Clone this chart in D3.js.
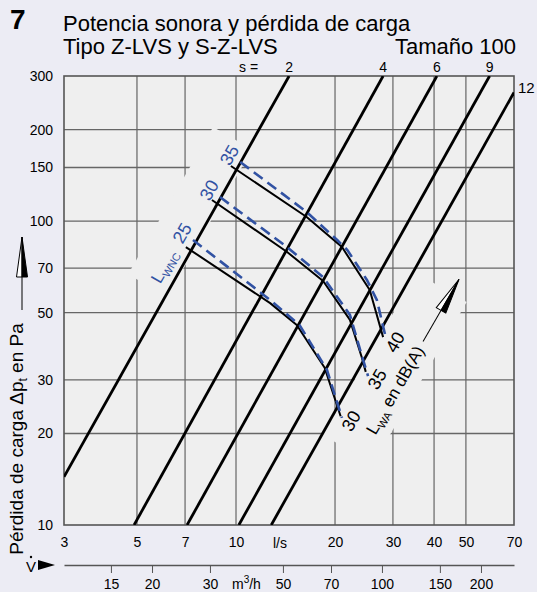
<!DOCTYPE html>
<html><head><meta charset="utf-8">
<script src="https://cdn.jsdelivr.net/npm/d3@7"></script>
<style>
html,body{margin:0;padding:0;background:#ececf4;}
svg{display:block;font-family:"Liberation Sans",Arial,Helvetica,sans-serif;}
</style></head><body>
<svg id="chart" width="537" height="592"></svg>
<script>
// Flow rate (l/s) and pressure drop (Pa) axes
const flowTicks = [3,5,7,10,20,30,40,50,70];
const flowGrid = [5,7,10,20,30,40,50];
const pressureTicks = [10,20,30,50,70,100,150,200,300];
const pressureGrid = [20,30,50,70,100,150,200];
const m3hTicks = [15,20,30,50,70,100,150,200];

// Damper positions s: each line runs from [l/s, Pa] to [l/s, Pa]
const sNames = ["2","4","6","9","12"];
const sFrom = [[3,14.4],[4.9,10],[7.1,10],[10.2,10],[12.8,10]];
const sTo = [[14.5,300],[28,300],[40.8,300],[59,300],[70,265]];

// Sound power curves: L_WA in dB(A) (solid) and L_WNC (dashed), points [l/s, Pa]
const lwaNames = ["30","35","40"];
const lwncNames = ["25","30","35"];
const lwaCurves = [
  [[7.04,82.1],[12.7,53.7],[15.3,45.5],[18.6,32.9],[20.8,22.8]],
  [[8.45,117.3],[14.3,79.1],[18.4,63.5],[22.2,47.3],[24.1,35.7],[24.8,31.9]],
  [[9.65,151.7],[16.4,103.1],[21.0,82.1],[25.5,59.3],[28.0,41.5]]
];
const lwncCurves = [
  [[7.40,86.6],[12.7,55.0],[15.6,45.5],[18.9,32.4],[21.0,22.5]],
  [[8.94,119.9],[14.3,82.1],[18.4,65.4],[22.2,49.1],[24.1,36.2],[25.2,30.9]],
  [[10.3,156.4],[16.4,107.1],[20.3,86.6],[21.8,80.3],[25.0,64.0],[26.8,55.0],[28.6,40.9]]
];

const svg = d3.select("#chart");
const L = 64, R = 514, T = 76, B = 525;
const PLOT_BG = "#efefef";
const BLUE = "#3152a3";
const x = d3.scaleLog().domain([3,70]).range([L,R]);
const y = d3.scaleLog().domain([10,300]).range([B,T]);
const xm = d3.scaleLog().domain([3*3.6,70*3.6]).range([L,R]);
const px = d => [x(d[0]), y(d[1])];

// Heading
svg.append("text").attr("x",10).attr("y",29).attr("font-size",28).attr("font-weight","bold").text("7");
svg.append("text").attr("x",63).attr("y",31).attr("font-size",22).text("Potencia sonora y pérdida de carga");
svg.append("text").attr("x",63).attr("y",54).attr("font-size",22).text("Tipo Z-LVS y S-Z-LVS");
svg.append("text").attr("x",516).attr("y",54).attr("text-anchor","end").attr("font-size",22).text("Tamaño 100");

// Plot area and grid
svg.append("defs").append("clipPath").attr("id","plotclip")
  .append("rect").attr("x",L).attr("y",T).attr("width",R-L).attr("height",B-T);
svg.append("rect").attr("x",L).attr("y",T).attr("width",R-L).attr("height",B-T).attr("fill",PLOT_BG);
const grid = svg.append("g").attr("stroke","#4a4a4a").attr("stroke-width",1);
grid.selectAll("line.v").data(flowGrid).join("line").attr("class","v")
  .attr("x1",d=>x(d)).attr("x2",d=>x(d)).attr("y1",T).attr("y2",B);
grid.selectAll("line.h").data(pressureGrid).join("line").attr("class","h")
  .attr("x1",L).attr("x2",R).attr("y1",d=>y(d)).attr("y2",d=>y(d)).attr("stroke","#666").attr("stroke-width",1.3);

// Label anchors, taken from the curve ends
const lwncStart = lwncCurves.map(c => px(c[0]));
const lwncEnd = lwncCurves.map(c => px(c[c.length-1]));
const lwncTitlePos = [lwncStart[0][0]-29, lwncStart[0][1]+26];
const lwaTitlePos = [lwncEnd[1][0]+27, lwncEnd[1][1]+14];
const ANG = -60;

// Blank bands behind the slanted annotations
const band1 = svg.append("g").attr("transform",`translate(${lwncTitlePos}) rotate(${ANG})`);
band1.append("rect").attr("x",-25).attr("y",-27).attr("width",170).attr("height",45).attr("fill",PLOT_BG);
const band2 = svg.append("g").attr("transform",`translate(${lwaTitlePos}) rotate(${ANG})`);
band2.append("rect").attr("x",-75).attr("y",-40).attr("width",187).attr("height",58).attr("fill",PLOT_BG);

// Frame
svg.append("rect").attr("x",L).attr("y",T).attr("width",R-L).attr("height",B-T)
  .attr("fill","none").attr("stroke","#555").attr("stroke-width",1.6);

// Damper position lines
svg.append("g").attr("clip-path","url(#plotclip)").selectAll("line").data(sNames).join("line")
  .attr("x1",(d,i)=>x(sFrom[i][0])).attr("y1",(d,i)=>y(sFrom[i][1]))
  .attr("x2",(d,i)=>x(sTo[i][0])).attr("y2",(d,i)=>y(sTo[i][1]))
  .attr("stroke","#000").attr("stroke-width",2.8);
const sLab = svg.append("g").attr("font-size",14);
sNames.forEach((n,i)=>{
  if (sTo[i][1] >= 300) {
    sLab.append("text").attr("x",x(sTo[i][0])).attr("y",72).attr("text-anchor","middle").text(n);
  } else {
    sLab.append("text").attr("x",R+4).attr("y",y(sTo[i][1])+1).attr("font-size",15).text(n);
  }
});
sLab.append("text").attr("x",x(sTo[0][0])-50).attr("y",72).text("s =");

// Curves
const line = d3.line().x(d=>x(d[0])).y(d=>y(d[1]));
svg.append("g").selectAll("path").data(lwaCurves).join("path").attr("d",line)
  .attr("fill","none").attr("stroke","#000").attr("stroke-width",2).attr("stroke-linejoin","round");
svg.append("g").selectAll("path").data(lwncCurves).join("path").attr("d",line)
  .attr("fill","none").attr("stroke",BLUE).attr("stroke-width",2.6).attr("stroke-dasharray","11,6");

// Curve labels
const lab = svg.append("g").attr("font-size",18);
lwncNames.forEach((n,i)=>{
  lab.append("text").attr("transform",`translate(${lwncStart[i][0]-11},${lwncStart[i][1]-7}) rotate(${ANG})`)
    .attr("text-anchor","middle").attr("dy","0.35em").attr("fill",BLUE).text(n);
});
lwaNames.forEach((n,i)=>{
  lab.append("text").attr("transform",`translate(${lwncEnd[i][0]+9},${lwncEnd[i][1]+3}) rotate(${ANG})`)
    .attr("text-anchor","middle").attr("dy","0.35em").attr("fill","#000").text(n);
});
const t1 = svg.append("text").attr("transform",`translate(${lwncTitlePos}) rotate(${ANG})`)
  .attr("text-anchor","middle").attr("dy","0.35em").attr("fill",BLUE).attr("font-size",17);
t1.append("tspan").text("L");
t1.append("tspan").attr("font-size",11).attr("dy",4).text("WNC");
const t2 = svg.append("text").attr("transform",`translate(${lwaTitlePos}) rotate(${ANG})`)
  .attr("text-anchor","middle").attr("dy","0.35em").attr("font-size",17);
t2.append("tspan").text("L");
t2.append("tspan").attr("font-size",11).attr("dy",4).text("WA");
t2.append("tspan").attr("dy",-4).text(" en dB(A)");

// Arrow along the L_WA direction
const arr = svg.append("g").attr("transform",`translate(${lwaTitlePos}) rotate(${ANG})`);
arr.append("line").attr("x1",56).attr("y1",0).attr("x2",93).attr("y2",0).attr("stroke","#000").attr("stroke-width",1);
arr.append("path").attr("d","M92,0 L92,-5.5 L128,0 Z").attr("fill","#fff").attr("stroke","#000").attr("stroke-width",1);
arr.append("path").attr("d","M92,0 L92,5.5 L128,0 Z").attr("fill","#000").attr("stroke","#000").attr("stroke-width",1);

// Axes
const ya = svg.append("g").attr("transform",`translate(${L},0)`)
  .call(d3.axisLeft(y).tickValues(pressureTicks).tickFormat(d3.format("d")).tickSize(0).tickPadding(11));
ya.select(".domain").remove();
ya.selectAll("text").attr("font-size",14).attr("font-family",null);
const xa = svg.append("g").attr("transform",`translate(0,${B})`)
  .call(d3.axisBottom(x).tickValues(flowTicks).tickFormat(d3.format("d")).tickSize(0).tickPadding(12));
xa.select(".domain").remove();
xa.selectAll("text").attr("font-size",14).attr("font-family",null);
svg.append("text").attr("x",280).attr("y",548).attr("text-anchor","middle").attr("font-size",14).text("l/s");

const ma = svg.append("g").attr("transform","translate(0,565)")
  .call(d3.axisBottom(xm).tickValues(m3hTicks).tickFormat(d3.format("d")).tickSize(8).tickSizeOuter(0).tickPadding(6));
ma.select(".domain").attr("stroke","#555").attr("stroke-width",1.3);
ma.selectAll(".tick line").attr("stroke","#555");
ma.selectAll("text").attr("font-size",14).attr("font-family",null);
const mu = svg.append("text").attr("x",(xm(30)+xm(50))/2).attr("y",589).attr("text-anchor","middle").attr("font-size",14);
mu.append("tspan").text("m");
mu.append("tspan").attr("font-size",10).attr("dy",-6).text("3");
mu.append("tspan").attr("dy",6).text("/h");

// Flow symbol and arrow
svg.append("text").attr("x",31).attr("y",572).attr("text-anchor","middle").attr("font-size",15).text("V");
svg.append("circle").attr("cx",31).attr("cy",557).attr("r",1.2).attr("fill","#000");
svg.append("path").attr("d","M38,560 L38,570 L55,565 Z").attr("fill","#000");

// Pressure axis title and arrow
const yt = svg.append("text").attr("transform","translate(23,439) rotate(-90)").attr("text-anchor","middle").attr("font-size",19);
yt.append("tspan").text("Pérdida de carga Δp");
yt.append("tspan").attr("font-size",12).attr("dy",4).text("t");
yt.append("tspan").attr("dy",-4).text(" en Pa");
svg.append("line").attr("x1",22).attr("y1",310).attr("x2",22).attr("y2",277).attr("stroke","#000").attr("stroke-width",1);
svg.append("path").attr("d","M22,277 L16.5,277 L22,237 Z").attr("fill","#fff").attr("stroke","#000").attr("stroke-width",1);
svg.append("path").attr("d","M22,277 L27.5,277 L22,237 Z").attr("fill","#000").attr("stroke","#000").attr("stroke-width",1);
</script>
</body></html>
